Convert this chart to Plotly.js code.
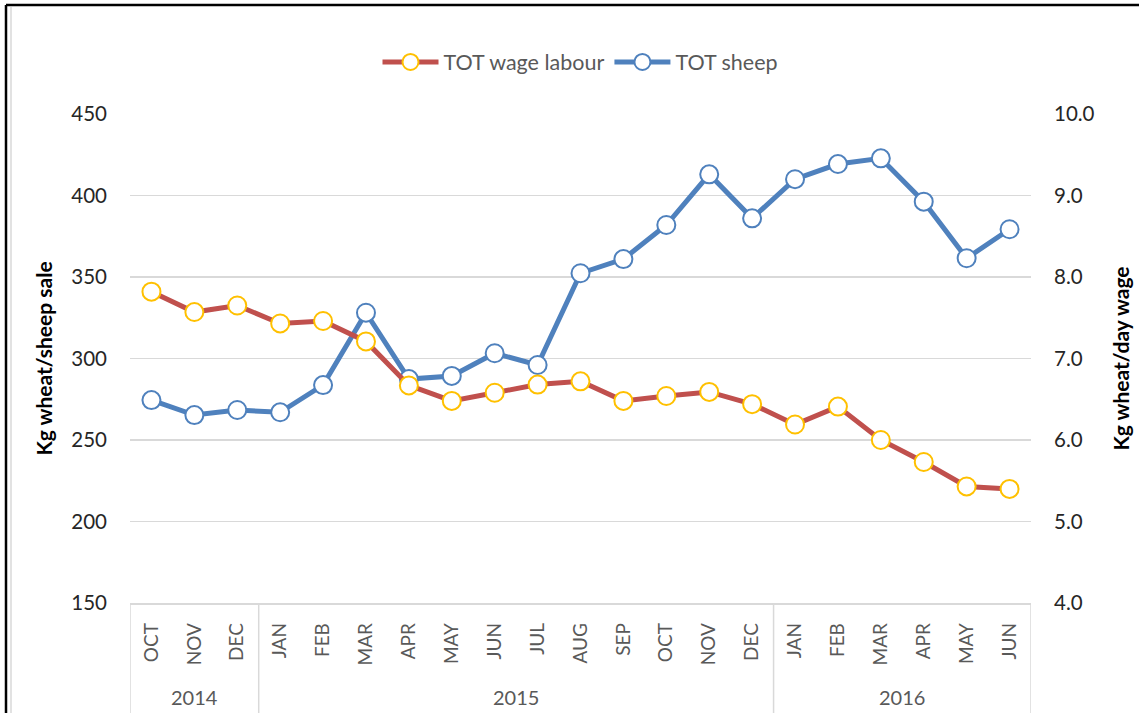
<!DOCTYPE html>
<html>
<head>
<meta charset="utf-8">
<script src="https://cdn.plot.ly/plotly-3.0.1.min.js"></script>
<style>html,body{margin:0;padding:0;background:#fff;}#chart{width:1139px;height:713px;}</style>
</head>
<body>
<div id="chart"></div>
<script>
const months = ['OCT','NOV','DEC','JAN','FEB','MAR','APR','MAY','JUN','JUL','AUG','SEP','OCT','NOV','DEC','JAN','FEB','MAR','APR','MAY','JUN'];
const years = ['2014','2014','2014','2015','2015','2015','2015','2015','2015','2015','2015','2015','2015','2015','2015','2016','2016','2016','2016','2016','2016'];
const wageLabour = [7.82,7.57,7.65,7.43,7.46,7.21,6.67,6.48,6.58,6.68,6.72,6.48,6.54,6.59,6.44,6.19,6.41,6.00,5.73,5.43,5.40];
const sheep = [274.5,265.3,268.4,267.0,283.7,328.1,287.4,289.3,303.2,296.0,352.3,361.0,381.9,413.0,386.0,410.0,419.3,422.8,396.2,361.5,379.3];
const leftTicks = [150,200,250,300,350,400,450];
const rightTicks = [4,5,6,7,8,9,10];

const xs = months.map((m,i)=>i);
const FONT = 'Lato, "Open Sans", sans-serif';

const traces = [
  {x: xs, y: wageLabour, yaxis: 'y2', name: 'TOT wage labour', type: 'scatter', mode: 'lines+markers',
   line: {color: '#C0504D', width: 5},
   marker: {symbol: 'circle', size: 18, color: '#FFFFFF', line: {color: '#FFC000', width: 2}}},
  {x: xs, y: sheep, yaxis: 'y', name: 'TOT sheep', type: 'scatter', mode: 'lines+markers',
   line: {color: '#4F81BD', width: 5},
   marker: {symbol: 'circle', size: 18, color: '#FFFFFF', line: {color: '#4F81BD', width: 2}}}
];

// year groups
const groups = [];
years.forEach((y,i)=>{
  if (!groups.length || groups[groups.length-1].year !== y) groups.push({year: y, start: i, end: i});
  else groups[groups.length-1].end = i;
});
const shapes = [];
const annotations = [];
const bottomY = -110/489;
groups.forEach((g,k)=>{
  if (k === 0) shapes.push({type:'line', xref:'x', yref:'paper', x0:g.start-0.5, x1:g.start-0.5, y0:0, y1:bottomY, line:{color:'#D9D9D9', width:1.5}});
  shapes.push({type:'line', xref:'x', yref:'paper', x0:g.end+0.5, x1:g.end+0.5, y0:0, y1:bottomY, line:{color:'#D9D9D9', width:1.5}});
  annotations.push({xref:'x', yref:'paper', x:(g.start+g.end)/2, y:-94/489, yanchor:'middle', xanchor:'center', showarrow:false, text:g.year, font:{family:FONT, size:20, color:'#595959'}});
});
// outer frame lines
shapes.push({type:'line', xref:'paper', yref:'paper', x0:-124/901, x1:-124/901, y0:bottomY, y1:598/489, line:{color:'#000000', width:2.5}});
shapes.push({type:'line', xref:'paper', yref:'paper', x0:-124/901, x1:1139/901, y0:598/489, y1:598/489, line:{color:'#000000', width:2.5}});
shapes.push({type:'line', xref:'paper', yref:'paper', x0:-119/901, x1:-119/901, y0:bottomY, y1:596/489, line:{color:'#D9D9D9', width:1.5}});

const layout = {
  width: 1139, height: 713,
  margin: {l:130, r:108, t:114, b:110, pad:0},
  paper_bgcolor: '#FFFFFF', plot_bgcolor: '#FFFFFF',
  font: {family: FONT, color: '#262626'},
  showlegend: true,
  legend: {orientation:'h', x:0.5, xanchor:'center', y:(603-62)/489, yanchor:'middle', font:{family:FONT, size:21.5, color:'#595959'}, traceorder:'normal', itemwidth:56},
  xaxis: {
    range: [-0.5, months.length-0.5], tickmode:'array', tickvals: xs, ticktext: months, tickangle: -90,
    tickfont: {family:FONT, size:19, color:'#595959'}, ticks:'', ticklabelstandoff: 11,
    showgrid:false, zeroline:false, showline:true, linecolor:'#D9D9D9', linewidth:1.5, fixedrange:true
  },
  yaxis: {
    range:[150,450], tickmode:'array', tickvals:leftTicks, ticks:'', ticklabelstandoff:22,
    tickfont:{family:FONT, size:20.5, color:'#262626'}, showgrid:true, gridcolor:'#D9D9D9', gridwidth:1.5,
    zeroline:false, showline:false,
    title:{text:'Kg wheat/sheep sale', font:{family:FONT, size:21, color:'#000000', weight:'bold'}, standoff:12}
  },
  yaxis2: {
    range:[4,10], overlaying:'y', side:'right', tickmode:'array', tickvals:rightTicks, tickformat:'.1f', ticks:'', ticklabelstandoff:22,
    tickfont:{family:FONT, size:20.5, color:'#262626'}, showgrid:false, zeroline:false, showline:false,
    title:{text:'Kg wheat/day wage', font:{family:FONT, size:21, color:'#000000', weight:'bold'}, standoff:20}
  },
  shapes: shapes,
  annotations: annotations
};

Plotly.newPlot('chart', traces, layout, {displayModeBar:false, staticPlot:true});
</script>
</body>
</html>
